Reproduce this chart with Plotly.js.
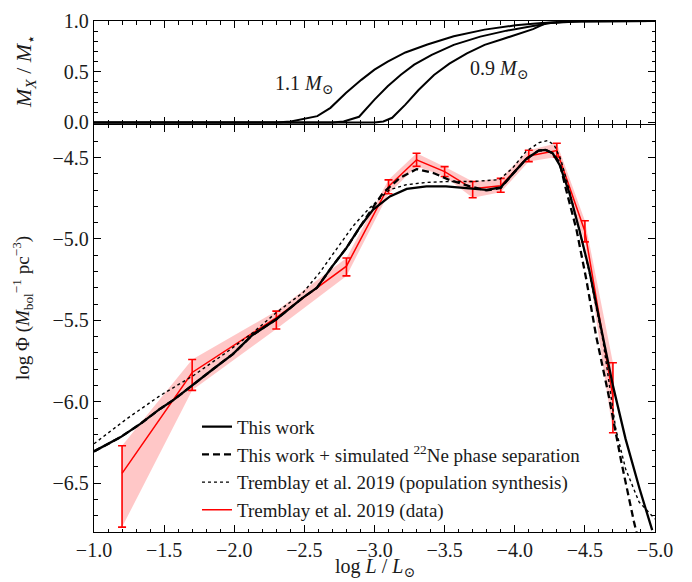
<!DOCTYPE html>
<html>
<head>
<meta charset="utf-8">
<script src="https://cdn.plot.ly/plotly-3.0.1.min.js"></script>
<style>html,body{margin:0;padding:0;background:#fff;}#plot{width:692px;height:582px;}</style>
</head>
<body>
<div id="plot"></div>
<script>
// ---- Top panel: crystallized mass fraction vs log L ----
const m11_x = [-1.0, -2.30, -2.403, -2.592, -2.686, -2.796, -2.906, -3.0, -3.094, -3.22, -3.377, -3.565, -3.785, -4.005, -4.193, -4.41, -5.0];
const m11_y = [0.0, 0.0, 0.01, 0.062, 0.144, 0.29, 0.42, 0.52, 0.60, 0.69, 0.768, 0.85, 0.915, 0.957, 0.98, 0.995, 1.0];
const m10_x = [-1.0, -2.70, -2.78, -2.89, -3.0, -3.094, -3.188, -3.283, -3.408, -3.565, -3.754, -3.942, -4.13, -4.256, -4.476, -5.0];
const m10_y = [0.0, 0.0, 0.01, 0.056, 0.225, 0.356, 0.47, 0.57, 0.667, 0.765, 0.846, 0.905, 0.95, 0.98, 0.997, 1.0];
const m09_x = [-1.0, -3.00, -3.063, -3.126, -3.22, -3.314, -3.424, -3.534, -3.659, -3.785, -3.91, -4.036, -4.13, -4.224, -4.41, -5.0];
const m09_y = [0.0, 0.0, 0.01, 0.046, 0.176, 0.32, 0.467, 0.58, 0.68, 0.765, 0.82, 0.88, 0.92, 0.98, 0.997, 1.0];

// ---- Bottom panel: luminosity function ----
const work_x = [-1.0, -1.19, -1.33, -1.47, -1.57, -1.71, -1.85, -1.99, -2.13, -2.30, -2.49, -2.59, -2.70, -2.80, -2.90, -2.99, -3.11, -3.23, -3.37, -3.51, -3.65, -3.80, -3.90, -3.98, -4.08, -4.17, -4.22, -4.27, -4.32, -4.39, -4.46, -4.53, -4.63, -4.70, -4.79, -4.89, -4.98];
const work_y = [-6.305, -6.217, -6.136, -6.044, -5.987, -5.891, -5.799, -5.707, -5.59, -5.493, -5.36, -5.30, -5.167, -5.055, -4.922, -4.82, -4.739, -4.693, -4.677, -4.677, -4.687, -4.698, -4.684, -4.606, -4.51, -4.457, -4.453, -4.473, -4.545, -4.718, -4.942, -5.187, -5.616, -5.901, -6.228, -6.534, -6.789];

const ne_x = [-1.0, -1.19, -1.33, -1.47, -1.57, -1.71, -1.85, -1.99, -2.13, -2.30, -2.49, -2.59, -2.70, -2.80, -2.90, -2.97, -3.06, -3.18, -3.30, -3.42, -3.53, -3.68, -3.80, -3.90, -3.98, -4.08, -4.17, -4.22, -4.27, -4.32, -4.36, -4.44, -4.51, -4.58, -4.67, -4.76, -4.85, -4.87];
const ne_y = [-6.305, -6.217, -6.136, -6.044, -5.987, -5.891, -5.799, -5.707, -5.59, -5.493, -5.36, -5.30, -5.167, -5.055, -4.922, -4.83, -4.718, -4.626, -4.571, -4.595, -4.636, -4.677, -4.702, -4.687, -4.606, -4.51, -4.457, -4.453, -4.473, -4.53, -4.677, -4.942, -5.248, -5.595, -5.963, -6.37, -6.737, -6.81];

const synth_x = [-1.0, -1.233, -1.47, -1.707, -1.944, -2.134, -2.30, -2.49, -2.609, -2.727, -2.846, -2.964, -3.107, -3.226, -3.368, -3.534, -3.70, -3.89, -3.984, -4.08, -4.174, -4.233, -4.281, -4.329, -4.388, -4.459, -4.53, -4.63, -4.72, -4.79, -4.886, -5.0];
const synth_y = [-6.258, -6.105, -5.963, -5.84, -5.697, -5.575, -5.452, -5.33, -5.207, -5.065, -4.922, -4.81, -4.698, -4.667, -4.653, -4.647, -4.647, -4.636, -4.565, -4.463, -4.408, -4.396, -4.422, -4.514, -4.698, -4.942, -5.20, -5.63, -6.166, -6.411, -6.615, -6.72];

const data_x = [-1.2, -1.7, -2.3, -2.8, -3.1, -3.3, -3.5, -3.7, -3.9, -4.1, -4.3, -4.5, -4.7];
const data_y = [-6.44, -5.82, -5.483, -5.167, -4.677, -4.514, -4.586, -4.692, -4.673, -4.49, -4.457, -4.953, -5.97];
const data_ep = [0.17, 0.08, 0.04, 0.05, 0.04, 0.04, 0.03, 0.045, 0.045, 0.035, 0.045, 0.065, 0.21];
const data_em = [0.33, 0.11, 0.07, 0.06, 0.045, 0.04, 0.03, 0.055, 0.04, 0.035, 0.04, 0.065, 0.22];

const xticks = [-1.0, -1.5, -2.0, -2.5, -3.0, -3.5, -4.0, -4.5, -5.0];

// band built from data +/- errors
const band_x = data_x.concat(data_x.slice().reverse());
const band_y = data_y.map((v, i) => v + data_ep[i]).concat(data_y.map((v, i) => v - data_em[i]).reverse());

const FONT = 'Liberation Serif, DejaVu Serif, serif';
const TXT = '#1a1a1a';

const traces = [
  {x: m11_x, y: m11_y, xaxis: 'x2', yaxis: 'y2', mode: 'lines', line: {color: 'black', width: 2}, showlegend: false, hoverinfo: 'skip'},
  {x: m10_x, y: m10_y, xaxis: 'x2', yaxis: 'y2', mode: 'lines', line: {color: 'black', width: 2}, showlegend: false, hoverinfo: 'skip'},
  {x: m09_x, y: m09_y, xaxis: 'x2', yaxis: 'y2', mode: 'lines', line: {color: 'black', width: 2}, showlegend: false, hoverinfo: 'skip'},
  {x: band_x, y: band_y, xaxis: 'x', yaxis: 'y', mode: 'lines', fill: 'toself', fillcolor: 'rgba(255,0,0,0.22)', line: {width: 0, color: 'rgba(0,0,0,0)'}, showlegend: false, hoverinfo: 'skip'},
  {x: data_x, y: data_y, xaxis: 'x', yaxis: 'y', mode: 'lines', name: 'Tremblay et al. 2019 (data)', legendrank: 4,
   line: {color: 'red', width: 1.5},
   error_y: {type: 'data', symmetric: false, array: data_ep, arrayminus: data_em, color: 'red', thickness: 1.6, width: 4}},
  {x: synth_x, y: synth_y, xaxis: 'x', yaxis: 'y', mode: 'lines', name: 'Tremblay et al. 2019 (population synthesis)', legendrank: 3,
   line: {color: 'black', width: 1.4, dash: 'dot'}},
  {x: ne_x, y: ne_y, xaxis: 'x', yaxis: 'y', mode: 'lines', name: 'This work + simulated <sup>22</sup>Ne phase separation', legendrank: 2,
   line: {color: 'black', width: 2.3, dash: '7px,4px'}},
  {x: work_x, y: work_y, xaxis: 'x', yaxis: 'y', mode: 'lines', name: 'This work', legendrank: 1,
   line: {color: 'black', width: 2.3}}
];

const axisCommon = {
  showline: true, linecolor: 'black', linewidth: 1.3, mirror: 'ticks',
  ticks: 'inside', ticklen: 7, tickwidth: 1.1, tickcolor: 'black',
  showgrid: false, zeroline: false,
  tickfont: {family: FONT, size: 20, color: TXT},
  minor: {ticks: 'inside', ticklen: 3.5, tickwidth: 1, tickcolor: 'black', dtick: 0.1, showgrid: false}
};

const layout = {
  width: 692, height: 582,
  margin: {l: 94, r: 37, t: 21, b: 50},
  paper_bgcolor: 'white', plot_bgcolor: 'white',
  font: {family: FONT, size: 19, color: TXT},
  showlegend: true,
  legend: {x: 0.1836, y: 0.243, xanchor: 'left', yanchor: 'top', bgcolor: 'rgba(0,0,0,0)',
           font: {family: FONT, size: 19, color: TXT}, tracegroupgap: 0, traceorder: 'normal'},
  xaxis: Object.assign({}, axisCommon, {
    anchor: 'y', domain: [0, 1], range: [-1, -5], tickmode: 'array', tickvals: xticks, tickformat: '.1f'
  }),
  xaxis2: Object.assign({}, axisCommon, {
    anchor: 'y2', domain: [0, 1], range: [-1, -5], matches: 'x', tickmode: 'array', tickvals: xticks, showticklabels: false
  }),
  yaxis: Object.assign({}, axisCommon, {
    anchor: 'x', domain: [0, 0.7965], range: [-6.8, -4.3], dtick: 0.5, tick0: -4.5, tickformat: '.1f'
  }),
  yaxis2: Object.assign({}, axisCommon, {
    anchor: 'x2', domain: [0.7985, 1], range: [-0.015, 1.0], dtick: 0.5, tick0: 0, tickformat: '.1f'
  }),
  annotations: [
    {x: -2.50, y: 0.37, xref: 'x2', yref: 'y2', text: '1.1 <i>M</i><sub>⊙</sub>', showarrow: false, font: {family: FONT, size: 20, color: TXT}},
    {x: -3.89, y: 0.52, xref: 'x2', yref: 'y2', text: '0.9 <i>M</i><sub>⊙</sub>', showarrow: false, font: {family: FONT, size: 20, color: TXT}},
    {x: 25, y: 72, xref: 'paper', yref: 'paper', xanchor: 'center', yanchor: 'middle', textangle: -90,
     text: '<i>M</i><sub><i>X</i></sub> / <i>M</i><sub>⋆</sub>', showarrow: false, font: {family: FONT, size: 22, color: TXT}},
    {x: 22, y: 308, xref: 'paper', yref: 'paper', xanchor: 'center', yanchor: 'middle', textangle: -90,
     text: 'log Φ (<i>M</i><sub>bol</sub><sup>−1</sup> pc<sup>−3</sup>)', showarrow: false, font: {family: FONT, size: 19, color: TXT}},
    {x: 375, y: 567, xref: 'paper', yref: 'paper', xanchor: 'center', yanchor: 'middle',
     text: 'log <i>L</i> / <i>L</i><sub>⊙</sub>', showarrow: false, font: {family: FONT, size: 20, color: TXT}}
  ]
};

// convert pixel positions of the axis-title annotations into paper coordinates
const plotW = layout.width - layout.margin.l - layout.margin.r;
const plotH = layout.height - layout.margin.t - layout.margin.b;
[2, 3, 4].forEach(i => {
  const a = layout.annotations[i];
  a.x = (a.x - layout.margin.l) / plotW;
  a.y = (layout.height - layout.margin.b - a.y) / plotH;
});

Plotly.newPlot('plot', traces, layout, {staticPlot: true, displayModeBar: false});
</script>
</body>
</html>
